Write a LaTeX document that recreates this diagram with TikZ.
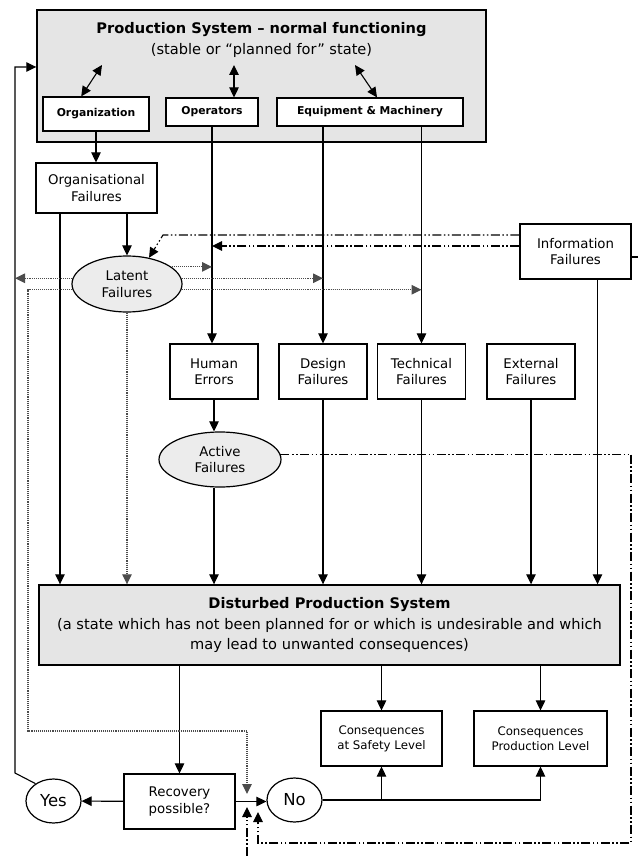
\documentclass[tikz,border=0pt]{standalone}
\usepackage{fontspec}
\setmainfont{DejaVu Sans}
\usetikzlibrary{arrows.meta,positioning,shapes.geometric,calc}

\begin{document}
\begin{tikzpicture}[
  x=1pt, y=-1pt,
  every node/.style={align=center, inner sep=1pt},
  box/.style={draw, line width=1.2pt, fill=white, font=\fontsize{13.3}{16.5}\selectfont},
  tagbox/.style={draw, line width=1.2pt, fill=white, minimum height=28pt, font=\bfseries\fontsize{10.8}{13}\selectfont},
  failbox/.style={box, minimum width=88pt, minimum height=55pt},
  sysbox/.style={draw, line width=1.4pt, fill=gray!20},
  fail/.style={ellipse, draw, line width=1.2pt, fill=gray!15, inner sep=0pt, font=\fontsize{13.3}{16.5}\selectfont},
  answer/.style={ellipse, draw, line width=1.2pt, fill=white, inner sep=0pt, minimum width=55pt, minimum height=44pt, font=\fontsize{16.5}{18}\selectfont},
  link/.style={line width=1.1pt},
  dotlink/.style={densely dotted, line width=1.1pt, black!70},
  dashlink/.style={dash pattern=on 9pt off 2.5pt on 1.5pt off 2.5pt on 1.5pt off 2.5pt, line width=1.1pt},
  >={Triangle[length=10pt,width=9.5pt]}
]
\useasboundingbox (0,0) rectangle (638,856);

\node[sysbox, minimum width=449pt, minimum height=132pt] (ps) at (261.5,76) {};
\node[font=\fontsize{14.6}{21}\selectfont] (pst) at (261.5,40) {\textbf{Production System – normal functioning}\\(stable or “planned for” state)};
\node[tagbox, minimum width=106pt, minimum height=34pt] (org) at (96,114) {Organization};
\node[tagbox, minimum width=92pt] (ops) at (212,112) {Operators};
\node[tagbox, minimum width=186pt] (eqm) at (370,112) {Equipment \& Machinery};

\node[box, minimum width=121pt, minimum height=50pt] (orgf) at (96.5,188) {Organisational\\Failures};
\node[fail, minimum width=110pt, minimum height=56pt] (lat) at (127,284) {Latent\\Failures};
\node[box, minimum width=111pt, minimum height=55pt] (info) at (575.5,251.5) {Information\\Failures};
\node[failbox] (hum) at (214,371.5) {Human\\Errors};
\node[failbox] (des) at (323,371.5) {Design\\Failures};
\node[failbox] (tech) at (421.5,371.5) {Technical\\Failures};
\node[failbox] (ext) at (531,371.5) {External\\Failures};
\node[fail, minimum width=122pt, minimum height=55pt] (act) at (220,459.5) {Active\\Failures};

\node[sysbox, minimum width=581pt, minimum height=80pt, font=\fontsize{14.6}{20.5}\selectfont] (dps) at (329.5,625) {\textbf{Disturbed Production System}\\(a state which has not been planned for or which is undesirable and which\\may lead to unwanted consequences)};
\node[box, minimum width=121pt, minimum height=55pt, font=\fontsize{11.8}{15}\selectfont] (csafe) at (381.5,738.5) {Consequences\\at Safety Level};
\node[box, minimum width=133pt, minimum height=55pt, font=\fontsize{11.8}{15}\selectfont] (cprod) at (540.5,738.5) {Consequences\\Production Level};
\node[box, minimum width=111pt, minimum height=55pt] (rec) at (179.5,801.5) {Recovery\\possible?};
\node[answer] (yes) at (53.5,801) {Yes};
\node[answer] (no) at (294.5,800) {No};

\coordinate (loopb) at (15,773);
\coordinate (loopt) at (15,67);
\coordinate (ha) at (102,65);
\coordinate (hb) at (234,65);
\coordinate (hc) at (355,65);
\coordinate (infoa) at (163,235);
\coordinate (infob) at ([yshift=5.5pt]info.west);
\coordinate (infor) at (638,257);
\coordinate (latl) at (28,731);
\coordinate (latr) at (247,731);
\coordinate (latt) at (247,794);
\coordinate (actr) at (631,454);
\coordinate (actb) at (631,843);
\coordinate (actl) at (258,843);
\coordinate (actt) at (258,812);
\coordinate (below) at (247,856);
\coordinate (belowt) at (247,807);
\coordinate (of) at ([xshift=-36.5pt]orgf.south);
\coordinate (ib) at ([xshift=22pt]info.south);

\draw[link,<->] (org.130) -- (ha);
\draw[link,<->] (ops.north -| hb) -- (hb);
\draw[link,<->] ([xshift=7pt]eqm.north) -- (hc);
\draw[link,->] (org.south) -- (org.south |- orgf.north);
\draw[link,->] (lat.north |- orgf.south) -- (lat.north);
\draw[link,->] (of) -- (of |- dps.north);
\draw[link,->] (ops.south) -- (ops.south |- hum.north);
\draw[link,->] (eqm.south -| des) -- (des);
\draw[link,->] (eqm.south -| tech) -- (tech);
\draw[link,->] (hum) -- (hum |- act.north);
\draw[link,->] (act.south -| hum) -- (hum |- dps.north);
\draw[link,->] (des) -- (des |- dps.north);
\draw[link,->] (tech) -- (tech |- dps.north);
\draw[link,->] (ext) -- (ext |- dps.north);
\draw[link,->] (ib) -- (ib |- dps.north);
\draw[link] (info.east |- infor) -- (infor);
\draw[link,->] (dps.south -| rec) -- (rec);
\draw[link,->] (dps.south -| csafe) -- (csafe);
\draw[link,->] (dps.south -| cprod) -- (cprod);
\draw[link,->] (rec) -- (yes);
\draw[link,->] (rec.east) -- (rec.east -| no.west);
\draw[link,->] (no.east) -| (csafe);
\draw[link,->] (no.east) -| (cprod);
\draw[link,->] (yes.136) -- (loopb) -- (loopt) -- (loopt -| ps.west);

\draw[dashlink,->] ([yshift=16.5pt]info.west) -- (infoa) -- (lat.50);
\draw[dashlink,->] (infob) -- (infob -| ops.south);
\draw[dashlink,->] (act.5) -- (act.5 -| actr) -- (actb) -- (actl) -- (actt);
\draw[dashlink,->] (below) -- (belowt);

\draw[dotlink,->] (lat.21) -- (lat.21 -| ops.south);
\draw[dotlink,->] (lat.6) -- (lat.6 -| des.north);
\draw[dotlink,->] (lat.174) -- (lat.174 -| loopt);
\draw[dotlink,->] (lat.-6) -- (lat.-6 -| tech.north);
\draw[dotlink,->] (lat.186) -- (lat.186 -| latl) -- (latl) -- (latr) -- (latt);
\draw[dotlink,->] (lat.south) -- (lat.south |- dps.north);
\end{tikzpicture}
\end{document}
